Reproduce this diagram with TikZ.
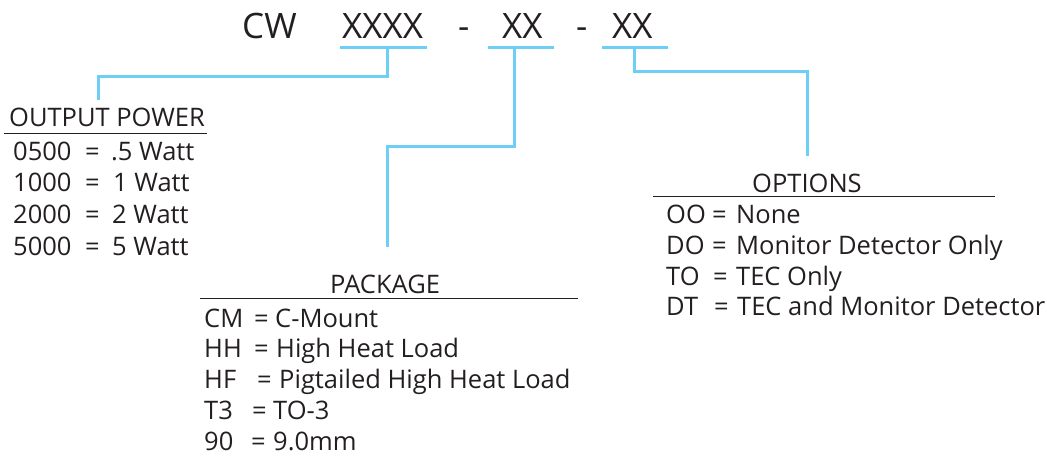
\documentclass[tikz,border=0pt]{standalone}
\usepackage{fontspec}
\setmainfont{Open Sans}
\definecolor{leadblue}{HTML}{6DCFF6}
\definecolor{inkgray}{HTML}{231F20}
\begin{document}
\begin{tikzpicture}[x=1pt,y=-1pt,
  txt/.style={anchor=base west,inner sep=0pt,text=inkgray,font=\fontsize{25.5}{29}\selectfont},
  hdr/.style={anchor=base west,inner sep=0pt,text=inkgray,font=\fontsize{35}{40}\selectfont},
  lead/.style={draw=leadblue,line width=3pt},
  rulex/.style={draw=inkgray,line width=1pt}]
\useasboundingbox (0,0) rectangle (1047,456);
% header
\node[hdr] (cw) at (242,38) {CW};
\node[hdr] (p1) at (342,38) {XXXX};
\node[hdr] (d1) at (458,38) {-};
\node[hdr] (p2) at (502,38) {XX};
\node[hdr] (d2) at (576,38) {-};
\node[hdr] (p3) at (612,38) {XX};
% underlines
\coordinate (u1a) at (340,47); \coordinate (u1b) at (427,47);
\coordinate (u2a) at (488,47); \coordinate (u2b) at (554,47);
\coordinate (u3a) at (602,47); \coordinate (u3b) at (668,47);
\draw[lead] (u1a) -- (u1b);
\draw[lead] (u2a) -- (u2b);
\draw[lead] (u3a) -- (u3b);
% connectors
\coordinate (e1) at (98,100);
\coordinate (e2) at (387,247);
\coordinate (e3) at (807,156);
\draw[lead] (387,47) -- (387,76) -- (e1 |- 0,76) -- (e1);
\draw[lead] (514,47) -- (514,146) -- (e2 |- 0,146) -- (e2);
\draw[lead] (634,47) -- (634,71) -- (e3 |- 0,71) -- (e3);
% output power
\node[txt] (opt) at (9,126) {OUTPUT POWER};
\draw[rulex] (4,133) -- (207,133);
\node[txt] (o1k) at (13,160) {0500}; \node[txt] at (85,160) {=}; \node[txt] (o1v) at (111,160) {.5 Watt};
\node[txt] (o2k) at (13,191) {1000}; \node[txt] at (85,191) {=}; \node[txt] (o2v) at (113,191) {1 Watt};
\node[txt] (o3k) at (13,223) {2000}; \node[txt] at (85,223) {=}; \node[txt] (o3v) at (112,223) {2 Watt};
\node[txt] (o4k) at (13,255) {5000}; \node[txt] at (85,255) {=}; \node[txt] (o4v) at (112,255) {5 Watt};
% package
\node[txt] (pkt) at (330,293) {PACKAGE};
\draw[rulex] (200,298) -- (578,298);
\node[txt] (k1k) at (204,327) {CM}; \node[txt] at (254,327) {=}; \node[txt] (k1v) at (275,327) {C-Mount};
\node[txt] (k2k) at (204,357) {HH}; \node[txt] at (254,357) {=}; \node[txt] (k2v) at (276,357) {High Heat Load};
\node[txt] (k3k) at (204,388) {HF}; \node[txt] at (257,388) {=}; \node[txt] (k3v) at (279,388) {Pigtailed High Heat Load};
\node[txt] (k4k) at (204,419) {T3}; \node[txt] at (252,419) {=}; \node[txt] (k4v) at (273,419) {TO-3};
\node[txt] (k5k) at (204,450) {90}; \node[txt] at (251,450) {=}; \node[txt] (k5v) at (273,450) {9.0mm};
% options
\node[txt] (ott) at (752,192) {OPTIONS};
\draw[rulex] (653,196) -- (995,196);
\node[txt] (q1k) at (666,223) {OO}; \node[txt] at (712,223) {=}; \node[txt] (q1v) at (736,223) {None};
\node[txt] (q2k) at (666,254) {DO}; \node[txt] at (712,254) {=}; \node[txt] (q2v) at (736,254) {Monitor Detector Only};
\node[txt] (q3k) at (666,285) {TO}; \node[txt] at (713,285) {=}; \node[txt] (q3v) at (736,285) {TEC Only};
\node[txt] (q4k) at (666,315) {DT}; \node[txt] at (714,315) {=}; \node[txt] (q4v) at (737,315) {TEC and Monitor Detector};
\end{tikzpicture}
\end{document}
